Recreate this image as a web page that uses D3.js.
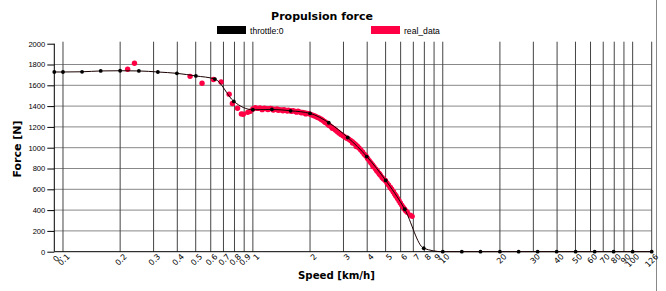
<!DOCTYPE html>
<html>
<head>
<meta charset="utf-8">
<script src="https://cdnjs.cloudflare.com/ajax/libs/d3/7.8.5/d3.min.js"></script>
<style>
  body { margin: 0; background: #fff; }
  .display svg { display: block; }
</style>
</head>
<body>
<div class="display"></div>
<script>
const speedTicks = [0.09, 0.1, 0.2, 0.3, 0.4, 0.5, 0.6, 0.7, 0.8, 0.9, 1, 2, 3, 4, 5, 6, 7, 8, 9, 10, 20, 30, 40, 50, 60, 70, 80, 90, 100, 126];
const speedTickLabels = ['0.', '0.1', '0.2', '0.3', '0.4', '0.5', '0.6', '0.7', '0.8', '0.9', '1', '2', '3', '4', '5', '6', '7', '8', '9', '10', '20', '30', '40', '50', '60', '70', '80', '90', '100', '126'];
const forceTicks = [0, 200, 400, 600, 800, 1000, 1200, 1400, 1600, 1800, 2000];

// throttle:0 curve
const throttleSpeed = [0.09, 0.1, 0.126, 0.158, 0.2, 0.251, 0.316, 0.398, 0.501, 0.631, 0.794, 1.0, 1.26, 1.58, 2.0, 2.51, 3.16, 3.98, 5.01, 6.31, 7.94, 10, 12.6, 15.8, 20, 25.1, 31.6, 39.8, 50.1, 63.1, 79.4, 100, 126];
const throttleForce = [1728, 1728, 1730, 1738, 1740, 1738, 1728, 1715, 1690, 1660, 1445, 1365, 1368, 1355, 1330, 1240, 1098, 915, 685, 408, 33, 0, 0, 0, 0, 0, 0, 0, 0, 0, 0, 0, 0];

// measured points
const realSpeed = [
  0.219, 0.238, 0.467, 0.54, 0.62, 0.68, 0.75, 0.78, 0.83, 0.87, 0.89, 0.94, 0.97,
  1.00, 1.03, 1.06, 1.09, 1.12, 1.15, 1.18, 1.21, 1.24, 1.27, 1.30, 1.34, 1.38, 1.42, 1.46, 1.50, 1.54, 1.58, 1.63, 1.68, 1.73, 1.78, 1.83, 1.88, 1.93, 1.98,
  1.12, 1.20, 1.28, 1.36, 1.44, 1.52, 1.60, 1.70, 1.80, 1.90,
  2.03, 2.08, 2.13, 2.18, 2.23, 2.28, 2.33, 2.38, 2.43, 2.48, 2.54, 2.60, 2.66, 2.72, 2.78, 2.84, 2.91, 2.98, 3.05, 3.12,
  2.30, 2.40, 2.50, 2.62,
  3.20, 3.27, 3.34, 3.41, 3.48, 3.55, 3.62, 3.70, 3.78, 3.86, 3.94, 4.02, 4.10, 4.18, 4.26, 4.34, 4.43, 4.52, 4.61, 4.70, 4.79, 4.88, 4.98,
  3.35, 3.50, 4.30, 4.50, 4.65,
  5.08, 5.18, 5.28, 5.38, 5.48, 5.58, 5.68, 5.78, 5.88, 5.98, 6.08, 6.18, 6.28, 6.38, 6.50, 6.75, 6.90,
  5.30, 5.50, 5.65
];
const realForce = [
  1755, 1812, 1686, 1619, 1656, 1632, 1515, 1425, 1380, 1325, 1322, 1340, 1350,
  1372, 1384, 1378, 1382, 1376, 1380, 1375, 1372, 1378, 1372, 1368, 1372, 1365, 1362, 1366, 1358, 1360, 1354, 1356, 1348, 1350, 1342, 1338, 1334, 1330, 1326,
  1366, 1368, 1362, 1360, 1356, 1352, 1350, 1342, 1336, 1325,
  1318, 1310, 1302, 1293, 1286, 1276, 1264, 1252, 1240, 1228, 1212, 1198, 1184, 1170, 1156, 1142, 1128, 1116, 1104, 1092,
  1270, 1244, 1218, 1188,
  1082, 1070, 1058, 1044, 1030, 1014, 998, 978, 958, 938, 920, 896, 876, 856, 836, 818, 796, 774, 754, 734, 714, 698, 684,
  1044, 1012, 818, 778, 744,
  662, 642, 620, 600, 578, 556, 534, 512, 490, 468, 448, 428, 410, 394, 380, 352, 340,
  616, 574, 542
];

const config = {
  width: 666,
  height: 291,
  plot: { left: 54.3, right: 651.7, top: 43.7, bottom: 251.7 },
  lineColor: '#1a0000',
  realColor: '#ff0044'
};

let svg, plotGroup;

function setupSvg() {
  svg = d3.select('.display')
    .append('svg')
    .attr('width', config.width)
    .attr('height', config.height);

  svg.append('text')
    .attr('x', 322)
    .attr('y', 20)
    .attr('text-anchor', 'middle')
    .style('font-family', 'DejaVu Sans')
    .style('font-weight', 'bold')
    .style('font-size', '11px')
    .text('Propulsion force');

  svg.append('text')
    .attr('transform', 'translate(21, 149) rotate(-90)')
    .attr('text-anchor', 'middle')
    .style('font-family', 'DejaVu Sans')
    .style('font-weight', 'bold')
    .style('font-size', '11px')
    .text('Force [N]');

  svg.append('text')
    .attr('x', 336.5)
    .attr('y', 279)
    .attr('text-anchor', 'middle')
    .style('font-family', 'DejaVu Sans')
    .style('font-weight', 'bold')
    .style('font-size', '10.2px')
    .text('Speed [km/h]');

  // page border on the right
  svg.append('line')
    .attr('x1', 656.5).attr('x2', 656.5)
    .attr('y1', 0).attr('y2', config.height)
    .attr('stroke', '#888');

  plotGroup = svg.append('g');
}

function drawLegend() {
  const items = [
    { label: 'throttle:0', color: '#000', x: 217 },
    { label: 'real_data', color: config.realColor, x: 371 }
  ];
  const legend = svg.append('g');
  items.forEach(it => {
    legend.append('rect')
      .attr('x', it.x).attr('y', 26)
      .attr('width', 29).attr('height', 8)
      .attr('fill', it.color);
    legend.append('text')
      .attr('x', it.x + 33)
      .attr('y', 33.5)
      .style('font-family', 'Liberation Sans')
      .style('font-size', '8.6px')
      .text(it.label);
  });
}

function draw() {
  const p = config.plot;

  const x = d3.scaleLog()
    .domain([0.09, 126])
    .range([p.left, p.right]);

  const y = d3.scaleLinear()
    .domain([0, 2000])
    .range([p.bottom, p.top]);

  // Grid lines
  plotGroup.append('g')
    .selectAll('line')
    .data(forceTicks.filter(d => d > 0 && d < 2000))
    .enter()
    .append('line')
    .attr('x1', p.left).attr('x2', p.right)
    .attr('y1', d => y(d)).attr('y2', d => y(d))
    .attr('stroke', '#888')
    .attr('stroke-width', 1);

  plotGroup.append('g')
    .selectAll('line')
    .data(speedTicks.slice(1))
    .enter()
    .append('line')
    .attr('x1', d => x(d)).attr('x2', d => x(d))
    .attr('y1', p.top - 2).attr('y2', p.bottom)
    .attr('stroke', '#444')
    .attr('stroke-width', 1);

  // y axis
  const yAxis = plotGroup.append('g')
    .attr('transform', `translate(${p.left}, 0)`)
    .call(d3.axisLeft(y).tickValues(forceTicks).tickSize(7).tickPadding(2).tickFormat(d3.format('d')));
  yAxis.select('.domain').attr('d', `M0,${p.top}V${p.bottom}`);
  yAxis.selectAll('text')
    .style('font-family', 'Liberation Sans')
    .style('font-size', '7.6px');

  // x axis
  const xAxis = plotGroup.append('g')
    .attr('transform', `translate(0, ${p.bottom})`)
    .call(d3.axisBottom(x).tickValues(speedTicks).tickSize(0).tickFormat((d, i) => speedTickLabels[i]));
  xAxis.select('.domain').attr('d', `M${p.left},0H${p.right}`);
  xAxis.selectAll('text')
    .attr('text-anchor', 'end')
    .attr('transform', 'rotate(-45)')
    .attr('x', 1)
    .attr('y', 6)
    .attr('dy', '0.32em')
    .style('font-family', 'DejaVu Sans')
    .style('font-size', '8px');

  // real data points
  const realData = realSpeed.map((v, i) => ({ speed: v, force: realForce[i] }));
  plotGroup.append('g')
    .selectAll('circle')
    .data(realData)
    .enter()
    .append('circle')
    .attr('cx', d => x(d.speed))
    .attr('cy', d => y(d.force))
    .attr('r', 2.7)
    .attr('fill', config.realColor);

  // throttle curve
  const throttleData = throttleSpeed.map((v, i) => ({ speed: v, force: throttleForce[i] }));
  plotGroup.append('path')
    .datum(throttleData)
    .attr('fill', 'none')
    .attr('stroke', config.lineColor)
    .attr('stroke-width', 1)
    .attr('d', d3.line()
      .x(d => x(d.speed))
      .y(d => y(d.force))
      .curve(d3.curveMonotoneX));

  plotGroup.append('g')
    .selectAll('circle')
    .data(throttleData)
    .enter()
    .append('circle')
    .attr('cx', d => x(d.speed))
    .attr('cy', d => y(d.force))
    .attr('r', 1.9)
    .attr('fill', '#000');
}

window.addEventListener('load', () => {
  setupSvg();
  drawLegend();
  draw();
}, false);
</script>
</body>
</html>
